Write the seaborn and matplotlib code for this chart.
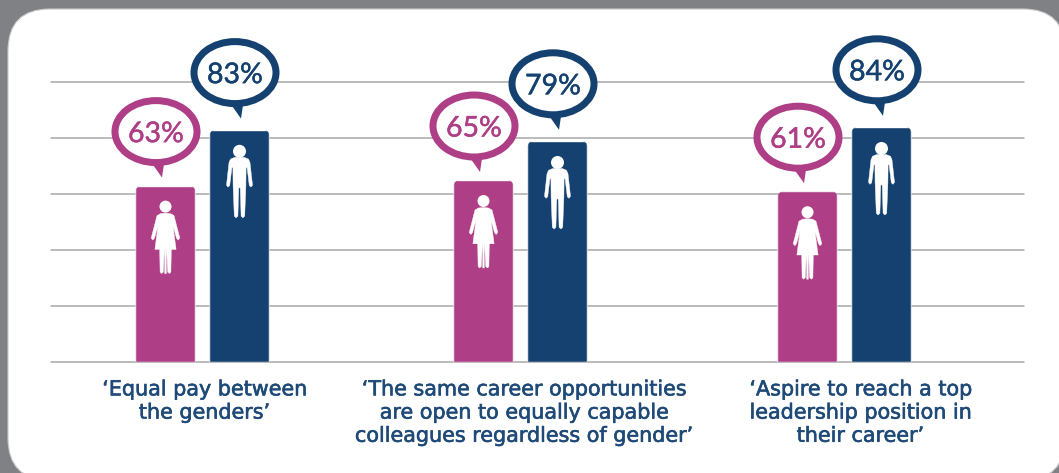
import numpy as np
import pandas as pd
import matplotlib
matplotlib.use("Agg")
import matplotlib.pyplot as plt
import matplotlib.patheffects as pe
from matplotlib.patches import Ellipse, FancyBboxPatch, Polygon, Circle
import seaborn as sns

# Survey results
statements = [
    "\u2018Equal pay between\nthe genders\u2019",
    "\u2018The same career opportunities\nare open to equally capable\ncolleagues regardless of gender\u2019",
    "\u2018Aspire to reach a top\nleadership position in\ntheir career\u2019",
]
women = [63, 65, 61]
men = [83, 79, 84]

PINK = "#AE3E85"
NAVY = "#14416F"
GREY_BG = "#808184"
GRID = "#A9A9A9"
W, H = 1059, 473

group_centers = [202.5, 520.5, 844.5]
label_centers = [204.5, 524, 860.5]

df = pd.DataFrame({
    "center": group_centers * 2,
    "gender": ["Women"] * 3 + ["Men"] * 3,
    "share": women + men,
})

sns.set_theme(style="white")
plt.rcParams["font.family"] = ["DejaVu Sans"]

fig = plt.figure(figsize=(W / 100, H / 100), dpi=100, facecolor=GREY_BG)

def px_axes(zorder):
    a = fig.add_axes([0, 0, 1, 1], zorder=zorder)
    a.set_xlim(0, W)
    a.set_ylim(H, 0)
    a.axis("off")
    return a

# White rounded card behind the chart
back = px_axes(0)
back.add_patch(FancyBboxPatch((8 + 42, 9 + 42), 1065 - 8 - 84, 480 - 9 - 84,
                              boxstyle="round,pad=42,rounding_size=42",
                              fc="white", ec="#C9CACB", lw=0.8))

ax = fig.add_axes([51 / W, 1 - 362 / H, (1024 - 51) / W, 280 / H], zorder=1)
ax.patch.set_visible(False)

sns.barplot(data=df, x="center", y="share", hue="gender", native_scale=True,
            palette={"Women": PINK, "Men": NAVY}, width=148 / 318, gap=1 - 60 / 74,
            saturation=1, legend=False, errorbar=None, ax=ax, zorder=3)

ax.set_xlim(51, 1024)
ax.set_ylim(0, 100)
ax.set_yticks(range(0, 101, 20))
ax.set_yticklabels([])
ax.yaxis.grid(True, color=GRID, lw=1.1)
for line in ax.get_ygridlines():
    line.set_clip_on(False)
ax.set_axisbelow(True)
ax.set_xlabel("")
ax.set_ylabel("")
ax.set_xticks(label_centers)
ax.set_xticklabels(statements, fontsize=14.9, color="#1F4A78", linespacing=1.2)
for tick_label in ax.get_xticklabels():
    tick_label.set_path_effects([pe.withStroke(linewidth=0.45, foreground="#1F4A78")])
ax.tick_params(axis="x", length=0, pad=12.5)
ax.tick_params(axis="y", length=0)
sns.despine(ax=ax, left=True, bottom=True)

# Person pictograms and speech bubbles, in figure pixels
over = px_axes(2)

MAN_HALF = [(0, 27.5), (5, 27.8), (9, 29.5), (10.5, 33), (13, 55.5), (11.5, 57.5),
            (9.8, 56), (7.6, 38), (6.6, 38), (6.4, 56), (5.2, 86.5), (3.4, 88.2),
            (1.6, 86.5), (0.8, 59), (0, 57.5)]
WOMAN_HALF = [(0, 27.5), (5, 28), (8.5, 30), (14.3, 52.5), (12.6, 54.5), (11, 52.5),
              (7.5, 40), (10.6, 63.8), (5.8, 63.8), (5.4, 86.5), (4, 88), (2.2, 86.5),
              (1.2, 63.8), (0.8, 63.8), (0.8, 88), (0, 88)]

def mirrored(half, cx, top):
    right = [(cx + dx, top + dy) for dx, dy in half]
    left = [(cx - dx, top + dy) for dx, dy in reversed(half)]
    return right + left

def pictogram(cx, top, half, head_dy, head_r):
    over.add_patch(Circle((cx, top + head_dy), head_r, fc="white", ec="none"))
    over.add_patch(Polygon(mirrored(half, cx, top), closed=True, fc="white", ec="white",
                           lw=0.3, joinstyle="round"))

def bubble(cx, cy, value, color):
    over.add_patch(Polygon([(cx - 6, cy + 29), (cx + 6, cy + 46), (cx + 8.5, cy + 29)],
                           closed=True, fc=color, ec="none"))
    over.add_patch(Ellipse((cx, cy), 82, 62, fc="white", ec=color, lw=7 * 0.72))
    over.text(cx, cy, f"{value}%", color=color, ha="center", va="center_baseline",
              fontsize=20.5, family=["Lato", "DejaVu Sans"],
              path_effects=[pe.withStroke(linewidth=0.35, foreground=color)])

fig.canvas.draw()
to_px = lambda x, y: (ax.transData.transform((x, y))[0],
                      H - ax.transData.transform((x, y))[1])

for bar in ax.patches:
    if bar.get_height() == 0:
        continue
    x0, w, h = bar.get_x(), bar.get_width(), bar.get_height()
    # Round only the top corners: the box's lower end lies below the axes
    left, top = to_px(x0, h)
    right, base = to_px(x0 + w, 0)
    clip = FancyBboxPatch((left + 7, top + 7), right - left - 14, base - top + 12,
                          boxstyle="round,pad=7,rounding_size=7", transform=over.transData)
    bar.set_clip_path(clip)
    cx = (left + right) / 2
    is_woman = matplotlib.colors.to_hex(bar.get_facecolor()).upper() == PINK
    if is_woman:
        pictogram(cx, top, WOMAN_HALF, 21, 6)
        bubble(cx - 9.5, top - 54, int(round(h)), PINK)
    else:
        pictogram(cx, top, MAN_HALF, 21.7, 6.5)
        bubble(cx - 4.5, top - 57, int(round(h)), NAVY)

fig.savefig("out.png", dpi=100, facecolor=GREY_BG)
